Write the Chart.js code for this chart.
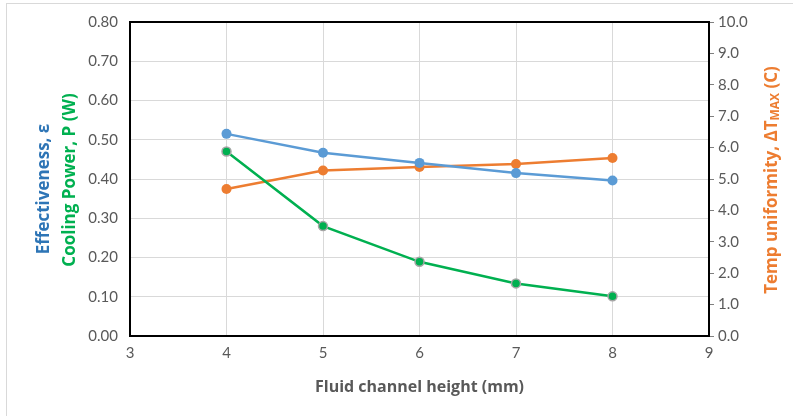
<!DOCTYPE html>
<html>
<head>
<meta charset="utf-8">
<script src="https://cdn.jsdelivr.net/npm/chart.js@4.4.0/dist/chart.umd.min.js"></script>
<style>
  html, body { margin: 0; padding: 0; background: #fff; }
  #wrap { width: 793px; height: 416px; position: relative; }
</style>
</head>
<body>
<div id="wrap"><canvas id="chart" width="793" height="416"></canvas></div>
<script>
// Data
const channelHeight = [4, 5, 6, 7, 8];
const effectiveness = [0.515, 0.467, 0.441, 0.415, 0.396];
const coolingPower = [0.470, 0.280, 0.189, 0.134, 0.101];
const tempUniformity = [4.68, 5.27, 5.38, 5.48, 5.67];

const toPoints = (ys) => channelHeight.map((x, i) => ({ x: x, y: ys[i] }));

const tickColor = '#595959';
const gridColor = '#d9d9d9';
const tickFont = 'Lato';
const titleFont = 'Open Sans';

// Draws outer frame, plot border and the multi-colour axis titles
const decorations = {
  id: 'decorations',
  afterDraw(chart) {
    const ctx = chart.ctx;
    const a = chart.chartArea;
    ctx.save();

    // outer frame
    ctx.strokeStyle = '#d9d9d9';
    ctx.lineWidth = 1;
    ctx.strokeRect(6.5, 3.5, 800, 430);

    // plot border
    ctx.strokeStyle = '#000';
    ctx.lineWidth = 2;
    ctx.strokeRect(a.left, a.top, a.right - a.left, a.bottom - a.top);

    // left titles
    ctx.font = 'bold 17px "Open Sans", sans-serif';
    ctx.textAlign = 'center';
    ctx.textBaseline = 'middle';
    ctx.save();
    ctx.translate(44, 189);
    ctx.rotate(-Math.PI / 2);
    ctx.fillStyle = '#2E75B6';
    ctx.fillText('Effectiveness, \u03b5', 0, 0);
    ctx.restore();
    ctx.save();
    ctx.translate(70, 180);
    ctx.rotate(-Math.PI / 2);
    ctx.fillStyle = '#00B050';
    ctx.fillText('Cooling Power, P (W)', 0, 0);
    ctx.restore();

    // right title with subscript
    ctx.save();
    ctx.translate(772, 180);
    ctx.rotate(-Math.PI / 2);
    ctx.fillStyle = '#ED7D31';
    const big = 'bold 17px "Open Sans", sans-serif';
    const small = 'bold 12px "Open Sans", sans-serif';
    const p1 = 'Temp uniformity, \u0394T', p2 = 'MAX', p3 = ' (C)';
    ctx.font = big; const w1 = ctx.measureText(p1).width; const w3 = ctx.measureText(p3).width;
    ctx.font = small; const w2 = ctx.measureText(p2).width;
    let x = -(w1 + w2 + w3) / 2;
    ctx.textAlign = 'left';
    ctx.font = big; ctx.fillText(p1, x, 0); x += w1;
    ctx.font = small; ctx.fillText(p2, x, 4); x += w2;
    ctx.font = big; ctx.fillText(p3, x, 0);
    ctx.restore();

    ctx.restore();
  }
};

new Chart(document.getElementById('chart'), {
  type: 'line',
  data: {
    datasets: [
      {
        label: 'Effectiveness',
        data: toPoints(effectiveness),
        yAxisID: 'y',
        borderColor: '#5B9BD5',
        backgroundColor: '#5B9BD5',
        borderWidth: 2.5,
        pointRadius: 5,
        pointBorderWidth: 0
      },
      {
        label: 'Cooling Power',
        data: toPoints(coolingPower),
        yAxisID: 'y',
        borderColor: '#00B050',
        backgroundColor: '#00B050',
        borderWidth: 2.5,
        pointRadius: 4.5,
        pointBorderColor: '#a5a5a5',
        pointBorderWidth: 1.5
      },
      {
        label: 'Temp uniformity',
        data: toPoints(tempUniformity),
        yAxisID: 'y1',
        borderColor: '#ED7D31',
        backgroundColor: '#ED7D31',
        borderWidth: 2.5,
        pointRadius: 5,
        pointBorderWidth: 0
      }
    ]
  },
  options: {
    responsive: false,
    animation: false,
    layout: { padding: { top: 22, left: 0, right: 0, bottom: 0 } },
    plugins: {
      legend: { display: false },
      tooltip: { enabled: false }
    },
    scales: {
      x: {
        type: 'linear',
        min: 3,
        max: 9,
        ticks: { stepSize: 1, color: tickColor, font: { size: 15, family: tickFont }, padding: 8 },
        grid: { color: gridColor, drawTicks: false },
        border: { display: false },
        title: {
          display: true,
          text: 'Fluid channel height (mm)',
          color: tickColor,
          font: { size: 16, weight: 'bold', family: titleFont },
          padding: { top: 6, bottom: 19 }
        },
        afterFit(scale) { scale.height = 80; }
      },
      y: {
        position: 'left',
        min: 0,
        max: 0.8,
        ticks: {
          stepSize: 0.1,
          color: tickColor,
          font: { size: 15, family: tickFont },
          padding: 12,
          callback: (v) => v.toFixed(2)
        },
        grid: { color: gridColor, drawTicks: false },
        border: { display: false },
        afterFit(scale) { scale.width = 130; }
      },
      y1: {
        position: 'right',
        min: 0,
        max: 10,
        ticks: {
          stepSize: 1,
          color: tickColor,
          font: { size: 15, family: tickFont },
          padding: 4,
          callback: (v) => v.toFixed(1)
        },
        grid: { drawOnChartArea: false, color: '#808080', tickLength: 5 },
        border: { display: false },
        afterFit(scale) { scale.width = 84; }
      }
    }
  },
  plugins: [decorations]
});
</script>
</body>
</html>
